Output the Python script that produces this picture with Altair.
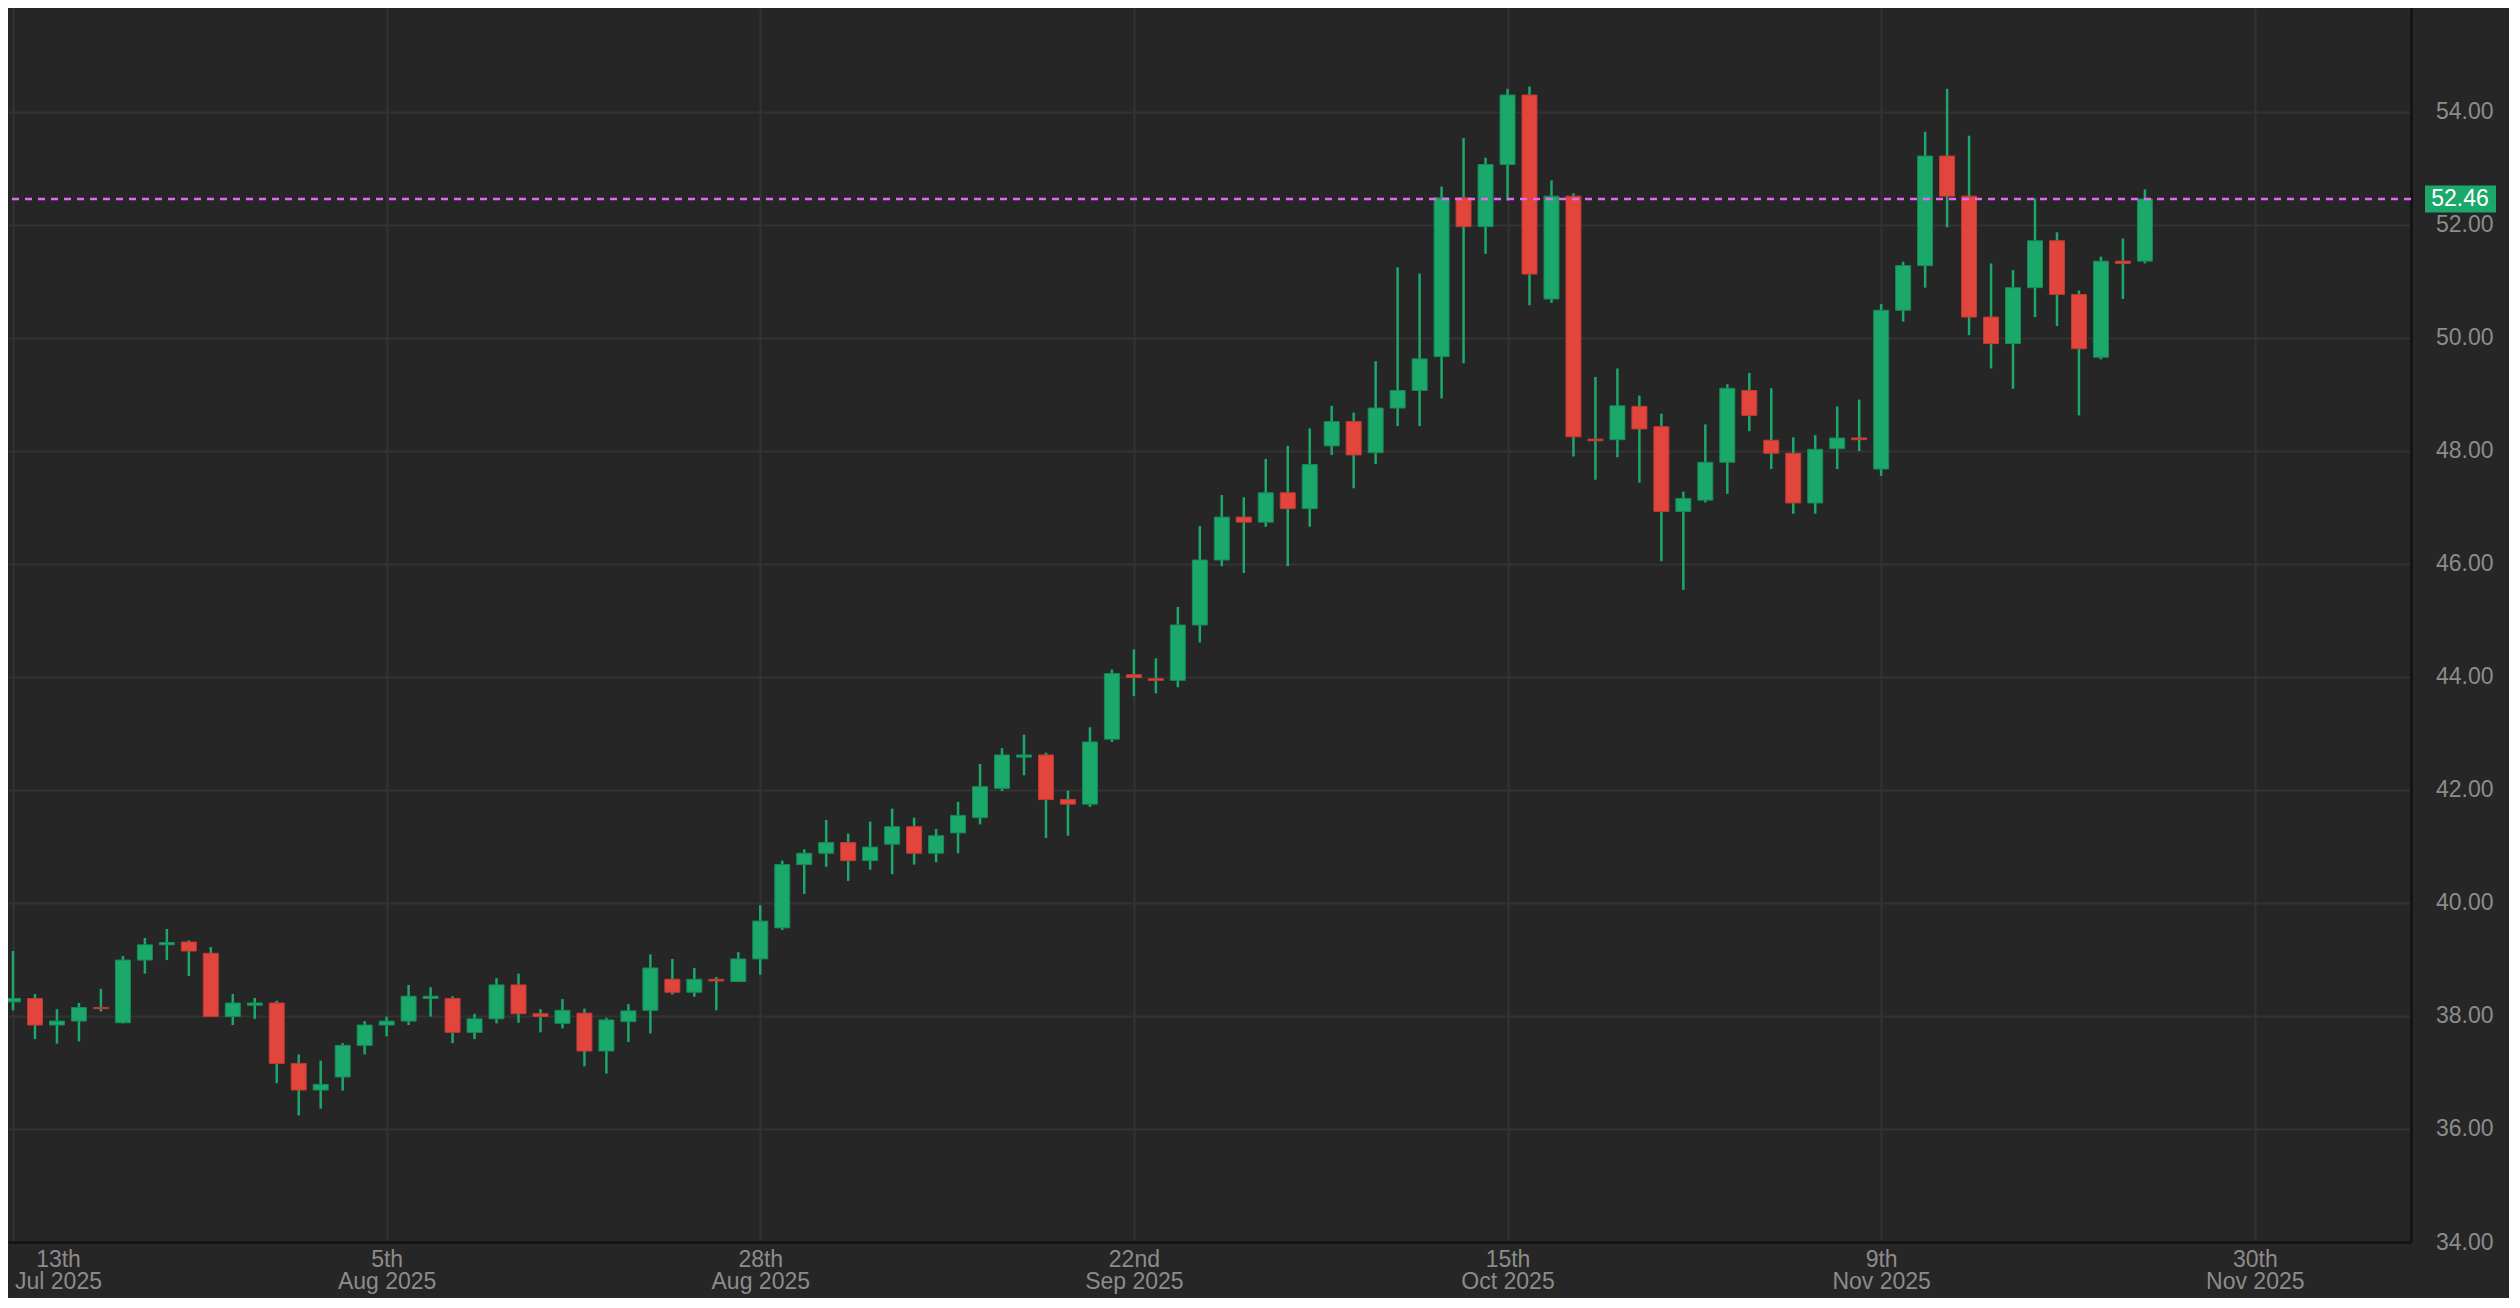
import altair as alt
import pandas as pd

# ---- data (daily candles, index = trading bar) ----
opens = [38.25, 38.31, 37.84, 37.91, 38.15, 37.88, 38.99, 39.26, 39.31, 39.11,
         37.99, 38.19, 38.23, 37.16, 36.69, 36.92, 37.48, 37.84, 37.91, 38.31,
         38.31, 37.71, 37.95, 38.55, 38.04, 37.87, 38.05, 37.38, 37.90, 38.10,
         38.65, 38.42, 38.65, 38.61, 39.01, 39.56, 40.68, 40.88, 41.07, 40.75,
         41.04, 41.35, 40.88, 41.24, 41.51, 42.03, 42.58, 42.62, 41.83, 41.75,
         42.90, 44.04, 43.97, 43.94, 44.92, 46.07, 46.83, 46.74, 47.26, 46.98,
         48.09, 48.52, 47.97, 48.76, 49.07, 49.67, 52.48, 51.97, 53.07, 54.30,
         50.69, 52.51, 48.21, 48.20, 48.79, 48.43, 46.93, 47.13, 47.80, 49.07,
         48.19, 47.96, 47.08, 48.04, 48.23, 47.68, 50.49, 51.28, 53.22, 52.51,
         50.37, 49.90, 50.89, 51.72, 50.77, 49.66, 51.36, 51.36]
highs = [39.15, 38.39, 38.12, 38.23, 38.48, 39.06, 39.38, 39.54, 39.34, 39.22,
         38.39, 38.32, 38.27, 37.32, 37.21, 37.52, 37.91, 37.99, 38.55, 38.51,
         38.35, 38.04, 38.67, 38.75, 38.12, 38.30, 38.13, 37.97, 38.21, 39.09,
         39.01, 38.85, 38.69, 39.13, 39.96, 40.75, 40.95, 41.47, 41.23, 41.44,
         41.67, 41.51, 41.31, 41.79, 42.46, 42.74, 42.98, 42.66, 41.99, 43.11,
         44.13, 44.49, 44.33, 45.24, 46.67, 47.22, 47.18, 47.86, 48.09, 48.40,
         48.80, 48.68, 49.59, 51.25, 51.14, 52.68, 53.54, 53.19, 54.41, 54.45,
         52.79, 52.56, 49.31, 49.46, 48.98, 48.66, 47.28, 48.47, 49.18, 49.38,
         49.11, 48.24, 48.28, 48.79, 48.91, 50.60, 51.35, 53.65, 54.41, 53.58,
         51.32, 51.20, 52.47, 51.87, 50.84, 51.44, 51.76, 52.63]
lows = [38.10, 37.59, 37.51, 37.55, 38.08, 37.87, 38.75, 38.99, 38.71, 37.98,
        37.84, 37.95, 36.81, 36.24, 36.36, 36.68, 37.32, 37.64, 37.84, 37.99,
        37.52, 37.59, 37.87, 37.88, 37.71, 37.78, 37.11, 36.98, 37.54, 37.69,
        38.38, 38.34, 38.10, 38.60, 38.73, 39.52, 40.16, 40.64, 40.39, 40.59,
        40.51, 40.68, 40.72, 40.88, 41.39, 41.98, 42.26, 41.15, 41.19, 41.70,
        42.85, 43.66, 43.71, 43.82, 44.61, 45.96, 45.84, 46.66, 45.96, 46.66,
        47.93, 47.34, 47.77, 48.44, 48.44, 48.93, 49.55, 51.49, 52.43, 50.58,
        50.62, 47.90, 47.49, 47.89, 47.44, 46.05, 45.54, 47.09, 47.24, 48.35,
        47.68, 46.89, 46.89, 47.68, 48.00, 47.56, 50.29, 50.89, 51.96, 50.05,
        49.46, 49.10, 50.37, 50.21, 48.63, 49.62, 50.69, 51.32]
closes = [38.31, 37.84, 37.91, 38.15, 38.13, 38.99, 39.26, 39.30, 39.15, 37.99,
          38.23, 38.23, 37.16, 36.69, 36.79, 37.48, 37.84, 37.91, 38.35, 38.35,
          37.71, 37.95, 38.55, 38.04, 37.99, 38.10, 37.38, 37.93, 38.09, 38.85,
          38.42, 38.65, 38.62, 39.01, 39.68, 40.68, 40.88, 41.07, 40.75, 40.99,
          41.35, 40.88, 41.19, 41.55, 42.06, 42.62, 42.62, 41.83, 41.75, 42.85,
          44.06, 43.99, 43.94, 44.92, 46.07, 46.83, 46.74, 47.26, 46.98, 47.76,
          48.52, 47.93, 48.76, 49.07, 49.63, 52.48, 51.97, 53.07, 54.30, 51.13,
          52.51, 48.25, 48.18, 48.80, 48.39, 46.93, 47.16, 47.80, 49.11, 48.63,
          47.96, 47.08, 48.03, 48.23, 48.20, 50.49, 51.28, 53.22, 52.51, 50.37,
          49.90, 50.89, 51.72, 50.77, 49.81, 51.36, 51.32, 52.46]

tick_idx = [0, 17, 34, 51, 68, 85, 102]
tick_day = ["13th", "5th", "28th", "22nd", "15th", "9th", "30th"]
tick_month = ["Jul 2025", "Aug 2025", "Aug 2025", "Sep 2025", "Oct 2025", "Nov 2025", "Nov 2025"]
y_ticks = [34, 36, 38, 40, 42, 44, 46, 48, 50, 52, 54]
last_price = [52.46]

# ---- styling ----
BG = "#262626"
GRID = "#333333"
GREEN = "#1ba86b"
GREEN_EDGE = "#168b58"
RED = "#e2453c"
RED_EDGE = "#c23a32"
LABEL = "#8c8c8c"
DASH = "#e866f5"
FONT = "Liberation Sans"

n = len(opens)
df = pd.DataFrame({
    "i": list(range(n)),
    "open": opens, "high": highs, "low": lows, "close": closes,
})
df["dir"] = ["up" if c >= o else "down" for o, c in zip(opens, closes)]

label_expr = " : ".join(
    f"datum.value == {i} ? ['{d}', '{m}']" for i, d, m in zip(tick_idx, tick_day, tick_month)
) + " : ''"

x_scale = alt.Scale(domain=[0, 108.88], nice=False, zero=False)
y_scale = alt.Scale(domain=[34, 55.84], nice=False, zero=False)

x_axis = alt.Axis(
    values=tick_idx, labelExpr=label_expr, labelFlush=False,
    labelOffset={"condition": {"test": f"datum.value == {tick_idx[0]}", "value": 45}, "value": 0},
    labelAlign="center",
    labelFont=FONT, labelFontSize=23, labelLineHeight=22, labelColor=LABEL,
    labelPadding=6, labelBaseline="top", ticks=False, grid=True,
    gridColor=GRID, gridWidth=2, domain=True, domainColor="#141414",
    domainWidth=3, title=None, zindex=0,
)
y_axis = alt.Axis(
    orient="right", values=y_ticks, format=".2f", labelAlign="right",
    labelPadding=82, labelFont=FONT, labelFontSize=23, labelColor=LABEL,
    labelBaseline="middle", ticks=False, grid=True, gridColor=GRID,
    gridWidth=2, domain=True, domainColor="#141414", domainWidth=3,
    title=None, zindex=0,
)

X = alt.X("i:Q", scale=x_scale, axis=x_axis, title=None)

base = alt.Chart(df)

wicks = base.mark_rule(clip=True, strokeWidth=2.5, color=GREEN).encode(
    x=X,
    y=alt.Y("low:Q", scale=y_scale, axis=y_axis, title=None),
    y2="high:Q",
)

bodies = base.mark_bar(clip=True, size=15, strokeWidth=1, orient="vertical").encode(
    x=X,
    y=alt.Y("open:Q", scale=y_scale, axis=y_axis, title=None),
    y2="close:Q",
    color=alt.Color("dir:N", scale=alt.Scale(domain=["up", "down"], range=[GREEN, RED]), legend=None),
    stroke=alt.Stroke("dir:N", scale=alt.Scale(domain=["up", "down"], range=[GREEN_EDGE, RED_EDGE]), legend=None),
)

lp = pd.DataFrame({"p": last_price})

dash_line = alt.Chart(lp).mark_rule(strokeDash=[7, 6], strokeWidth=2.3, color=DASH).encode(
    y=alt.Y("p:Q", scale=y_scale, axis=y_axis, title=None),
)

tag_box = alt.Chart(lp).mark_rule(strokeWidth=27, color=GREEN, strokeCap="butt").encode(
    y=alt.Y("p:Q", scale=y_scale, axis=y_axis, title=None),
    x=alt.value(2417), x2=alt.value(2488),
)

tag_text = alt.Chart(lp).mark_text(
    color="white", font=FONT, fontSize=23, align="center", baseline="middle"
).encode(
    y=alt.Y("p:Q", scale=y_scale, axis=y_axis, title=None),
    x=alt.value(2452),
    text=alt.Text("p:Q", format=".2f"),
)

chart = alt.layer(wicks, bodies, dash_line, tag_box, tag_text).properties(
    width=2403, height=1234,
    padding={"left": 0, "top": 0, "right": 98, "bottom": 56},
    autosize=alt.AutoSizeParams(type="none"),
).configure(background=BG).configure_view(fill=BG, stroke="transparent")

chart.save("out.html", embed_options={"renderer": "svg", "actions": False})
